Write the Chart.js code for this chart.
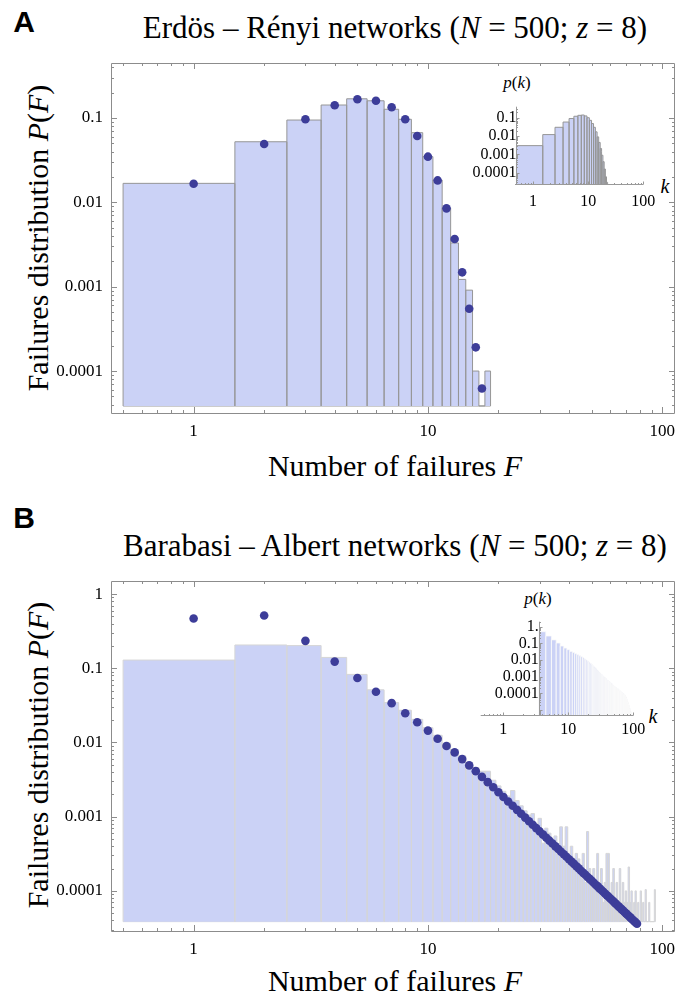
<!DOCTYPE html>
<html>
<head>
<meta charset="utf-8">
<script src="https://cdn.jsdelivr.net/npm/chart.js@4.4.0/dist/chart.umd.min.js"></script>
<style>
  body { margin: 0; width: 679px; height: 997px; background: #fff; position: relative; overflow: hidden; }
  canvas { position: absolute; }
  .txt { position: absolute; white-space: nowrap; line-height: 1; transform: translate(-50%, -50%);
         font-family: "Liberation Serif", "Times New Roman", serif; color: #000; }
  .panel { font-family: "Liberation Sans", Arial, sans-serif; font-weight: bold; font-size: 30px; }
  .title { font-size: 31px; }
  .axt { font-size: 30px; }
  .yt { transform: translate(-50%, -50%) rotate(-90deg); }
  .small { font-size: 17px; }
  .kl { font-size: 20px; }
</style>
</head>
<body>
<div class="txt panel" style="left:24px; top:22px">A</div>
<div class="txt title" style="left:395px; top:27px">Erdös – Rényi networks (<i>N</i> = 500; <i>z</i> = 8)</div>
<div class="txt axt yt" style="left:38px; top:238px">Failures distribution <i>P</i>(<i>F</i>)</div>
<div class="txt axt" style="left:395px; top:466px">Number of failures <i>F</i></div>
<div class="txt small" style="left:517px; top:82px"><i>p</i>(<i>k</i>)</div>
<div class="txt kl" style="left:665px; top:186px"><i>k</i></div>

<div class="txt panel" style="left:24px; top:518px">B</div>
<div class="txt title" style="left:395px; top:545px">Barabasi – Albert networks (<i>N</i> = 500; <i>z</i> = 8)</div>
<div class="txt axt yt" style="left:38px; top:755px">Failures distribution <i>P</i>(<i>F</i>)</div>
<div class="txt axt" style="left:395px; top:981px">Number of failures <i>F</i></div>
<div class="txt small" style="left:538px; top:598px"><i>p</i>(<i>k</i>)</div>
<div class="txt kl" style="left:653px; top:716px"><i>k</i></div>

<canvas id="mainA" width="679" height="400" style="left:0; top:50px"></canvas>
<canvas id="insetA" width="235" height="130" style="left:440px; top:90px"></canvas>
<canvas id="mainB" width="679" height="400" style="left:0; top:568px"></canvas>
<canvas id="insetB" width="235" height="140" style="left:440px; top:600px"></canvas>

<script>
// ---- data ----
// Panel A (Erdos-Renyi): histogram of failures, bins centred on F = 1, 2, ...
const erHist = [0.0168, 0.0523, 0.0946, 0.1426, 0.169, 0.160, 0.127, 0.0966, 0.067, 0.0348,
                0.0184, 0.0086, 0.0033, 0.00122, 0.00091, 0.0001, null, 0.0001];
const erDotF = [1, 2, 3, 4, 5, 6, 7, 8, 9, 10, 11, 12, 13, 14, 15, 16, 17];
const erDotP = [0.0166, 0.0492, 0.0966, 0.1415, 0.167, 0.160, 0.134, 0.0966, 0.0612, 0.0348,
                0.0182, 0.00849, 0.00367, 0.00148, 0.000547, 0.000191, 0.0000622];
// inset A: degree distribution p(k), k = 1, 2, ...
const erDegree = [0.003, 0.012, 0.03, 0.058, 0.09, 0.12, 0.135, 0.14, 0.125, 0.1, 0.072,
                  0.048, 0.03, 0.017, 0.009, 0.0045, 0.0021, 0.0009, 0.0004, 0.00016,
                  0.00006, 0.00003];

// Panel B (Barabasi-Albert): histogram of failures, bins centred on F = 1, 2, ...
const baHist = [0.129, 0.206, 0.202, 0.140, 0.0827, 0.0513, 0.0345, 0.0272, 0.0205, 0.0158,
                0.0125, 0.0098, 0.0079, 0.0066, 0.0054, 0.0046, 0.0041, 0.0041, 0.0031, 0.0026,
                0.0022, 0.0019, 0.00225, 0.00165, 0.0014, 0.0012, 0.00105, 0.0011, 0.0008, 0.00095,
                0.00044, 0.0007, 0.0006, 0.0005, 0.00055, 0.0004, 0.00073, 0.0004, 0.00073, 0.0003,
                0.0004, 0.0002, 0.00032, 0.00027, 0.0002, 0.00032, 0.00013, 0.00063, 0.0002, 0.00013,
                0.0002, 0.00013, 0.00032, 0.00013, 0.0002, 0.00007, 0.00013, 0.00032, 0.00032, 0.00007,
                0.00013, 0.0002, 0.00007, 0.00013, 0.00007, 0.0002, 0.00007, 0.00013, 0.00007, 0.0001,
                0.00007, 0.00021, 0.00007, 0.0001, null, 0.00007, 0.0001, null, 0.00007, null,
                0.0001, null, 0.00007, null, 0.000104, null, null, 0.00007, null, null,
                null, null, 0.000104];
const baDotF = [];
for (let f = 1; f <= 78; f++) baDotF.push(f);
const baDotP = [0.469, 0.514, 0.234, 0.123, 0.0738, 0.0482, 0.0339, 0.0248, 0.0187, 0.01445,
                0.01125, 0.00895, 0.00735, 0.00597, 0.00491, 0.00411, 0.00344, 0.00292, 0.00249, 0.002135,
                0.001844, 0.001604, 0.001404, 0.001236, 0.001093, 0.000972, 0.000868, 0.000778, 0.000700, 0.000633,
                0.000573, 0.000521, 0.000475, 0.000435, 0.000398, 0.000366, 0.000337, 0.000311, 0.000288, 0.000267,
                0.000248, 0.000231, 0.000215, 0.000201, 0.000187, 0.000175, 0.000165, 0.000154, 0.000145, 0.000137,
                0.000129, 0.000121, 0.000115, 0.000108, 0.000103, 0.0000973, 0.0000922, 0.0000875, 0.0000832, 0.0000791,
                0.0000752, 0.0000717, 0.0000683, 0.0000652, 0.0000622, 0.0000594, 0.0000568, 0.0000543, 0.0000520, 0.0000498,
                0.0000477, 0.0000458, 0.0000439, 0.0000421, 0.0000405, 0.0000389, 0.0000374, 0.0000360];
// inset B: degree distribution p(k), k = 4, 5, ...
const baDegreeStart = 4;
const baDegree = [0.50, 0.275, 0.162, 0.105, 0.069, 0.052, 0.042, 0.033, 0.028, 0.024,
                  0.021, 0.018, 0.0158, 0.0138, 0.0117, 0.0100, 0.0087, 0.0074, 0.0063, 0.0054,
                  0.0046, 0.0040, 0.0034, 0.0030, 0.0025, 0.0022, 0.00186, 0.00162, 0.00145, 0.00129,
                  0.00115, 0.00105, 0.00095, 0.00085, 0.00078, 0.00069, 0.00063, 0.00059, 0.00055, 0.0005,
                  0.00047, 0.00044, 0.0004, 0.00037, 0.00034, 0.0003, 0.00028, 0.00027, 0.00025, 0.00024,
                  0.00023, 0.00022, 0.00021, 0.0002, 0.00019, 0.000175, 0.000165, 0.000155, 0.000148, 0.00014,
                  0.000133, 0.000126, 0.00012, 0.000114, 0.000108, 0.000103, 0.000098, 0.000093, 0.000089, 0.000085,
                  0.000081, 0.000077, 0.00007, 0.000063, 0.000056, 0.00005, 0.000045, 0.00004, 0.000035, 0.00003,
                  0.000026, 0.000022, 0.000019, 0.000016, 0.000014, 0.000012, 0.00001, 0.0000088, 0.0000078, 0.0000069,
                  0.0000062, 0.0000057, 0.0000053];

// ---- axes ----
const xTicks = [1, 10, 100];
const xLabels = ['1', '10', '100'];
const erYTicks = [0.1, 0.01, 0.001, 0.0001];
const erYLabels = ['0.1', '0.01', '0.001', '0.0001'];
const baYTicks = [1, 0.1, 0.01, 0.001, 0.0001];
const baYLabels = ['1', '0.1', '0.01', '0.001', '0.0001'];
const insetAYTicks = [0.1, 0.01, 0.001, 0.0001];
const insetAYLabels = ['0.1', '0.01', '0.001', '0.0001'];
const insetBYTicks = [1, 0.1, 0.01, 0.001, 0.0001];
const insetBYLabels = ['1.', '0.1', '0.01', '0.001', '0.0001'];

const HIST_BASE = 0.0000385;
const FILL = 'rgb(203,210,246)';
const DOT = 'rgb(61,61,153)';
const FRAME = '#8c8c8c';
const SERIF = '"Liberation Serif", "Times New Roman", serif';

// outline of unit-width bars centred on integers (start = first centre)
function histPath(values, start, base) {
  const pts = [];
  values.forEach((v, i) => {
    if (v === null) return;
    const c = start + i;
    pts.push({x: c - 0.5, y: base}, {x: c - 0.5, y: v}, {x: c + 0.5, y: v}, {x: c + 0.5, y: base});
  });
  return pts;
}

// Mathematica-style frame / axes with inward log ticks
const logTicks = {
  id: 'logTicks',
  afterDraw(chart, args, opts) {
    const {ctx, chartArea: a, scales: {x, y}} = chart;
    const minors = (scale) => {
      const out = [];
      for (let e = Math.floor(Math.log10(scale.min)); e <= Math.ceil(Math.log10(scale.max)); e++) {
        for (let m = 1; m <= 9; m++) {
          const v = m * Math.pow(10, e);
          if (v >= scale.min && v <= scale.max) out.push({v, major: m === 1});
        }
      }
      return out;
    };
    ctx.save();
    ctx.strokeStyle = opts.color;
    ctx.lineWidth = 1;
    ctx.beginPath();
    if (opts.frame) {
      const l0 = Math.round(a.left), r0 = Math.round(a.right), t0 = Math.round(a.top), b0 = Math.round(a.bottom);
      ctx.rect(l0 + 0.5, t0 + 0.5, r0 - l0 - 1, b0 - t0);
      minors(x).forEach(t => {
        const px = Math.round(x.getPixelForValue(t.v)) + 0.5;
        const l = t.major ? opts.major : opts.minor;
        ctx.moveTo(px, b0); ctx.lineTo(px, b0 - l);
        ctx.moveTo(px, t0); ctx.lineTo(px, t0 + l);
      });
      minors(y).forEach(t => {
        const py = Math.round(y.getPixelForValue(t.v)) + 0.5;
        const l = t.major ? opts.major : opts.minor;
        ctx.moveTo(l0, py); ctx.lineTo(l0 + l, py);
        ctx.moveTo(r0, py); ctx.lineTo(r0 - l, py);
      });
    } else {
      const ax = Math.round(x.getPixelForValue(opts.yAxisAt)) + 0.5;
      const ay = Math.round(a.bottom) + 0.5;
      ctx.moveTo(a.left, ay); ctx.lineTo(a.right, ay);
      ctx.moveTo(ax, a.top); ctx.lineTo(ax, ay);
      minors(x).forEach(t => {
        const px = Math.round(x.getPixelForValue(t.v)) + 0.5;
        ctx.moveTo(px, ay); ctx.lineTo(px, ay - (t.major ? opts.major : opts.minor));
      });
      minors(y).forEach(t => {
        const py = Math.round(y.getPixelForValue(t.v)) + 0.5;
        ctx.moveTo(ax, py); ctx.lineTo(ax + (t.major ? opts.major : opts.minor), py);
      });
    }
    ctx.stroke();
    ctx.restore();
  }
};

// labels sit only where the figure has them; no extra layout padding from the scales
function fixedTicks(vals, labels, extra, size) {
  return Object.assign({
    afterBuildTicks: s => { s.ticks = vals.map(v => ({value: v})); }
  }, extra, {
    afterFit: s => {
      if (size) s[s.isHorizontal() ? 'height' : 'width'] = size;
      s.paddingTop = 0; s.paddingBottom = 0; s.paddingLeft = 0; s.paddingRight = 0;
    },
    grid: {display: false, drawTicks: false},
    border: {display: false},
    ticks: Object.assign({autoSkip: false, maxRotation: 0, color: '#000',
                          callback: (v, i) => labels[i]}, extra.ticks)
  });
}

function mainChart(id, hist, dotF, dotP, yMin, yMax, yTicks, yLabels, edge) {
  return new Chart(document.getElementById(id), {
    type: 'scatter',
    data: {
      datasets: [
        {data: dotF.map((f, i) => ({x: f, y: dotP[i]})), pointRadius: 4.3, pointBackgroundColor: DOT,
         pointBorderWidth: 0, showLine: false, order: 0},
        {data: histPath(hist, 1, HIST_BASE), showLine: true, fill: {value: HIST_BASE}, backgroundColor: FILL,
         borderColor: edge, borderWidth: 1, borderDash: [2000, 0], pointRadius: 0, tension: 0, order: 1},
        {data: [{x: 0.5, y: HIST_BASE}, {x: hist.length + 0.5, y: HIST_BASE}], showLine: true,
         borderColor: edge, borderWidth: 1, pointRadius: 0, order: 1}
      ]
    },
    options: {
      responsive: false, animation: false, events: [],
      layout: {padding: {top: 13, right: 1, left: 0, bottom: 0}},
      plugins: {legend: {display: false}, tooltip: {enabled: false},
                logTicks: {frame: true, major: 6, minor: 3, color: FRAME}},
      scales: {
        x: fixedTicks(xTicks, xLabels, {type: 'logarithmic', min: 0.444, max: 113,
             ticks: {padding: 8, font: {family: SERIF, size: 17}}}, 37),
        y: fixedTicks(yTicks, yLabels, {type: 'logarithmic', min: yMin, max: yMax,
             ticks: {padding: 8, font: {family: SERIF, size: 17}}}, 111)
      }
    },
    plugins: [logTicks]
  });
}

function insetChart(id, deg, start, yMin, yMax, yTicks, yLabels, yAxisAt, xMin, pad, xH, edge, labPad) {
  return new Chart(document.getElementById(id), {
    type: 'scatter',
    data: {
      datasets: [
        {data: histPath(deg, start, yMin), showLine: true, fill: {value: yMin}, backgroundColor: FILL,
         borderColor: edge, borderWidth: 1, borderDash: [2000, 0], pointRadius: 0, tension: 0}
      ]
    },
    options: {
      responsive: false, animation: false, events: [],
      layout: {padding: pad},
      plugins: {legend: {display: false}, tooltip: {enabled: false},
                logTicks: {frame: false, major: 3, minor: 1.5, color: '#999', yAxisAt}},
      scales: {
        x: fixedTicks(xTicks, xLabels, {type: 'logarithmic', min: xMin, max: 100,
             ticks: {padding: labPad[0], font: {family: SERIF, size: 16}}}, xH),
        y: fixedTicks(yTicks, yLabels, {type: 'logarithmic', min: yMin, max: yMax, position: {x: yAxisAt},
             ticks: {padding: labPad[1], font: {family: SERIF, size: 16}}}, 0)
      }
    },
    plugins: [logTicks]
  });
}

mainChart('mainA', erHist, erDotF, erDotP, 0.0000318, 0.449, erYTicks, erYLabels, 'rgb(150,150,150)');
mainChart('mainB', baHist, baDotF, baDotP, 0.0000288, 1.5, baYTicks, baYLabels, 'rgb(214,214,214)');
insetChart('insetA', erDegree, 1, 0.0000234, 0.398, insetAYTicks, insetAYLabels, 0.5, 0.47,
           {left: 75, top: 16.7, right: 31.7, bottom: 0}, 35.7, 'rgb(150,150,150)', [8, 7]);
insetChart('insetB', baDegree, baDegreeStart, 0.000005, 2.0, insetBYTicks, insetBYLabels, 3.5, 0.449,
           {left: 40.7, top: 21.7, right: 41.7, bottom: 0}, 25, 'rgba(250,250,250,0.75)', [5.4, 6]);
</script>
</body>
</html>
